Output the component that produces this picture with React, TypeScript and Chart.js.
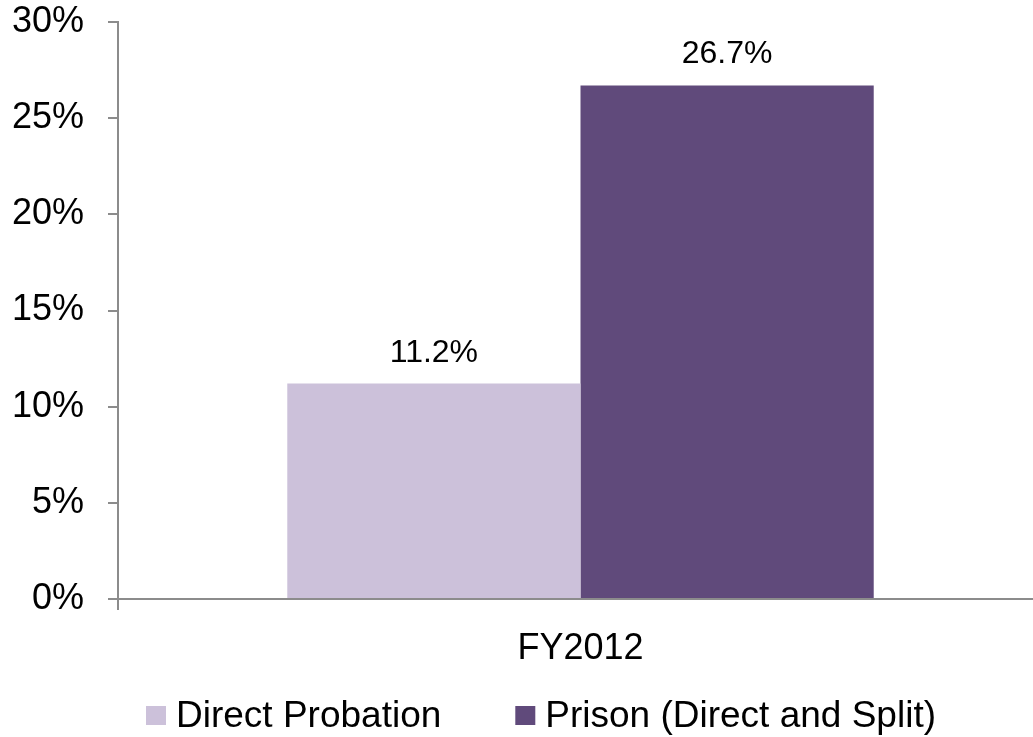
import React, { useEffect, useRef } from "react";
import { Chart, registerables } from "chart.js";

Chart.register(...registerables);

const categories = ["FY2012"];
const seriesNames = ["Direct Probation", "Prison (Direct and Split)"];
const directProbation = [11.2];
const prisonDirectSplit = [26.7];
const seriesColors = ["#CCC1DA", "#604A7B"];
const yMin = 0;
const yMax = 30;
const yStep = 5;

const FONT = "'Liberation Sans', Arial, Helvetica, sans-serif";
const AXIS_COLOR = "#8C8C8C";

const dataLabelPlugin = {
  id: "dataLabels",
  afterDatasetsDraw(chart: any) {
    const ctx = chart.ctx;
    ctx.save();
    ctx.font = `32px ${FONT}`;
    ctx.fillStyle = "#000";
    ctx.textAlign = "center";
    ctx.textBaseline = "alphabetic";
    chart.data.datasets.forEach((ds: any, i: number) => {
      const meta = chart.getDatasetMeta(i);
      meta.data.forEach((bar: any, j: number) => {
        const v = ds.data[j];
        ctx.fillText(v.toFixed(1) + "%", bar.x, bar.y - 22);
      });
    });
    ctx.restore();
  },
};

const customLegendPlugin = {
  id: "customLegend",
  afterDraw(chart: any) {
    const ctx = chart.ctx;
    ctx.save();
    ctx.font = `37px ${FONT}`;
    ctx.textBaseline = "middle";
    ctx.textAlign = "left";
    const box = 20;
    const gap = 10;
    const spacing = 74;
    const items = chart.data.datasets.map((ds: any) => ({
      label: ds.label,
      color: ds.backgroundColor,
      w: box + gap + ctx.measureText(ds.label).width,
    }));
    const total =
      items.reduce((s: number, it: any) => s + it.w, 0) + spacing * (items.length - 1);
    let x = 541 - total / 2;
    const yMid = 716;
    items.forEach((it: any) => {
      ctx.fillStyle = it.color;
      ctx.fillRect(x, yMid - box / 2, box, box - 1);
      ctx.fillStyle = "#000";
      ctx.fillText(it.label, x + box + gap, yMid + 1);
      x += it.w + spacing;
    });
    ctx.restore();
  },
};

export default function App() {
  const canvasRef = useRef<HTMLCanvasElement | null>(null);

  useEffect(() => {
    if (!canvasRef.current) return;
    const chart = new Chart(canvasRef.current, {
      type: "bar",
      data: {
        labels: categories,
        datasets: [
          {
            label: seriesNames[0],
            data: directProbation,
            backgroundColor: seriesColors[0],
            borderWidth: 0,
          },
          {
            label: seriesNames[1],
            data: prisonDirectSplit,
            backgroundColor: seriesColors[1],
            borderWidth: 0,
          },
        ],
      },
      options: {
        responsive: true,
        maintainAspectRatio: false,
        animation: false,
        layout: { padding: { top: 22, right: 0, bottom: 60, left: 0 } },
        datasets: {
          bar: { categoryPercentage: 0.634, barPercentage: 1.0 },
        },
        plugins: {
          legend: { display: false },
          tooltip: { enabled: false },
          title: { display: false },
        },
        scales: {
          x: {
            afterFit: (scale: any) => {
              scale.height = 78;
              scale.paddingLeft = 0;
              scale.paddingRight = 0;
            },
            grid: {
              drawOnChartArea: false,
              drawTicks: true,
              tickLength: 11,
              offset: true,
              color: AXIS_COLOR,
              lineWidth: 2,
            },
            border: { display: true, color: AXIS_COLOR, width: 2 },
            ticks: {
              color: "#000",
              font: { family: FONT, size: 36 },
              padding: 17,
            },
          },
          y: {
            min: yMin,
            max: yMax,
            afterFit: (scale: any) => {
              scale.width = 118;
              scale.paddingTop = 0;
              scale.paddingBottom = 0;
            },
            grid: {
              drawOnChartArea: false,
              drawTicks: true,
              tickLength: 10,
              color: AXIS_COLOR,
              lineWidth: 2,
            },
            border: { display: true, color: AXIS_COLOR, width: 2 },
            ticks: {
              stepSize: yStep,
              color: "#000",
              font: { family: FONT, size: 36 },
              padding: 24,
              callback: (v: any) => `${v}%`,
            },
          },
        },
      },
      plugins: [dataLabelPlugin, customLegendPlugin],
    });
    return () => chart.destroy();
  }, []);

  return (
    <div
      style={{
        position: "fixed",
        left: 0,
        top: 0,
        width: 1033,
        height: 737,
        overflow: "hidden",
        background: "#fff",
      }}
    >
      <div style={{ position: "absolute", left: 0, top: 0, width: 1043, height: 737 }}>
        <canvas ref={canvasRef} />
      </div>
    </div>
  );
}
